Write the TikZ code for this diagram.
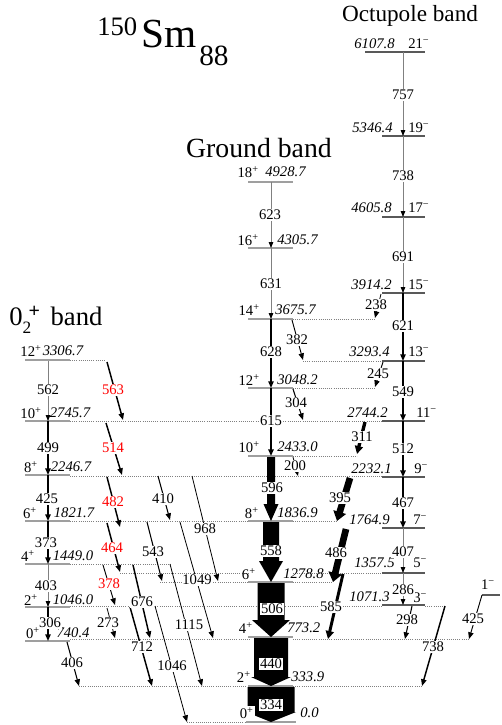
\documentclass[tikz,border=0pt]{standalone}
\usepackage{fontspec}
\setmainfont{Liberation Serif}
\usetikzlibrary{arrows.meta}
\newcommand\trn[4][]{\coordinate (#2s) at (#3); \coordinate (#2e) at (#4); \draw[#1] (#2s) -- (#2e);}
\newcommand\lev[4][lvl]{\draw[#1] (#2,#4) -- (#3,#4);}
\newcommand\dl[3]{\draw[dotl] (#1,#3) -- (#2,#3);}
\newcommand\blk[7]{\fill[black] ({#2-#5},#3) coordinate (#1s) -- ({#2+#5},#3) -- ({#2+#5},{#4-#7}) -- ({#2+#6},{#4-#7}) -- (#2,#4) coordinate (#1e) -- ({#2-#6},{#4-#7}) -- ({#2-#5},{#4-#7}) -- cycle;}
\begin{document}
\begin{tikzpicture}[x=0.75pt,y=-0.75pt,
  lvl/.style={draw=gray!75, line width=1.5pt},
  lvlo/.style={draw=black!65, line width=0.8pt},
  dotl/.style={draw=gray, densely dotted, line width=0.6pt},
  tg/.style={draw=gray, line width=0.6pt, -{Triangle[length=4.5pt,width=3.4pt,color=black]}},
  tb/.style={draw=black, line width=#1, -{Triangle[length=5pt,width=4pt]}},
  tb/.default=0.8pt,
  tk/.style n args={3}{draw=black, line width=#1, -{Triangle[length=#2,width=#3]}},
  lab/.style={font=\fontsize{11}{12}\selectfont, fill=white, inner sep=0.6pt},
  rlab/.style={lab, text=red},
  boxl/.style={lab, draw=black, line width=0.5pt, inner sep=1.2pt},
  en/.style={font=\fontsize{11}{12}\selectfont\itshape, inner sep=0pt},
  sp/.style={font=\fontsize{11}{12}\selectfont, inner sep=0pt},
]
\useasboundingbox (0,0) rectangle (501,725);

% ---------- titles
\node[anchor=base west, inner sep=0, font=\fontsize{20}{20}\selectfont] (tA) at (97,35) {150};
\node[anchor=base west, inner sep=0, font=\fontsize{31}{31}\selectfont] (tSm) at (141,47) {Sm};
\node[anchor=base west, inner sep=0, font=\fontsize{22}{22}\selectfont] (tZ) at (199,65) {88};
\node[anchor=base, inner sep=0, font=\fontsize{17.4}{18}\selectfont] (tOct) at (410,21) {Octupole band};
\node[inner sep=0, font=\fontsize{20.8}{21}\selectfont] (tGr) at (259,148) {Ground band};
\node[anchor=base west, inner sep=0, font=\fontsize{20}{20}\selectfont] (t02) at (9,325)
  {0\raisebox{-6pt}{\fontsize{13}{13}\selectfont 2}\hspace{-2pt}\raisebox{5.5pt}{\fontsize{15}{15}\selectfont\textbf{+}}\hspace{8pt}band};

% ---------- dotted guide lines
\dl{70}{105}{360}
\dl{293}{375}{319}
\dl{303}{383}{361}
\dl{293}{375}{388}
\dl{70}{382}{421}
\dl{293}{357}{456}
\dl{70}{382}{476}
\dl{70}{250}{521} \dl{293}{337}{521}
\dl{70}{172}{564}
\dl{120}{250}{573} \dl{293}{382}{573}
\dl{160}{250}{582} \dl{293}{333}{582}
\dl{70}{382}{606} \dl{425}{445}{606}
\dl{70}{250}{639} \dl{293}{470}{639}
\dl{79}{246}{686} \dl{293}{422}{686}
\dl{187}{246}{722}

% ---------- levels: 0_2 band
\foreach \yy in {360,421,475,521,564,607,641} {\lev{25}{70}{\yy}}
% ground band
\foreach \yy in {182,248,319,388,456,521,582,637,686} {\lev{248}{293}{\yy}}
\lev{246}{296}{722}
% octupole band
\lev[lvlo]{365}{425}{52}
\foreach \yy in {136,217,293,361,421,477,528,573,605} {\lev[lvlo]{382}{425}{\yy}}
\lev[lvlo]{482}{500}{595}

% ---------- 0_2 band in-band transitions
\trn[tg]{a562}{48,361}{48,421}
\trn[tb=1.5pt]{a499}{48,421}{48,475}
\trn[tb=1.2pt]{a425}{48,475}{48,521}
\trn[tb=1pt]{a373}{48,521}{48,564}
\trn[tg]{a403}{48,564}{48,607}
\trn[tb=1pt]{a306}{48,607}{48,641}

% ---------- out-of-band transitions from 0_2 band
\trn[tb=1.1pt]{r563}{107,362}{123,420}
\trn[tb=1.1pt]{r514}{106,423}{122,475}
\trn[tb=1.1pt]{r482}{107,477}{120,527}
\trn[tb=1.1pt]{r464}{107,523}{120,572}
\trn[tb=0.7pt]{r378}{103,565}{115,605}
\trn[tb=0.8pt]{b410}{158,476}{170,520}
\trn[tb=0.6pt]{b968}{192,476}{218,581}
\trn[tb=0.8pt]{b543}{147,522}{162,581}
\trn[tb=0.6pt]{b1049}{180,522}{213,638}
\trn[tb=1.1pt]{b676}{133,565}{150,638}
\trn[tb=0.6pt]{b1115}{170,564}{202,686}
\trn[tb=1.1pt]{b712}{130,607}{152,686}
\trn[tb=0.6pt]{b1046}{155,606}{187,722}
\trn[tb=0.6pt]{b273}{107,608}{115,638}
\trn[tb=0.8pt]{b406}{67,642}{79,686}

% ---------- ground band
\trn[tg]{g623}{271,182}{271,248}
\trn[tg]{g631}{271,248}{271,319}
\trn[tb=1.1pt]{g628}{271,319}{271,388}
\trn[tb=1.6pt]{g615}{271,388}{271,456}
\blk{g596}{271}{457}{521}{4}{7.5}{17}
\blk{g558}{271}{522}{582}{8}{12}{21}
\blk{g506}{271}{583}{637}{13.5}{19}{17}
\blk{g440}{271}{638}{686}{17}{20}{9}
\blk{g334}{271}{687}{722}{23.5}{25}{10}

% ---------- cross transitions ground / octupole
\trn[tb=0.7pt]{c382}{292,320}{303,360}
\trn[tb=0.8pt]{c304}{293,389}{303,420}
\trn[tb=0.6pt]{c200}{293,457}{298,476}
\trn[tb=0.6pt]{c238}{381,294}{375,318}
\trn[tb=0.7pt]{c245}{383,362}{375,387}
\trn[tk={2.5pt}{6pt}{6pt}]{c311}{365,422}{357,454}
\trn[tk={5pt}{7pt}{9.5pt}]{c395}{350,478}{337,521}
\trn[tk={5pt}{7pt}{10pt}]{c486}{346,529}{333,582}
\trn[tk={2.2pt}{6pt}{6pt}]{c585}{343,574}{328,639}
\trn[tb=0.8pt]{c298}{412,606}{405,639}
\trn[tb=1.1pt]{c738}{445,606}{422,686}
\trn[tb=0.7pt]{c425}{482,595}{469,639}

% ---------- octupole band
\trn[tg]{o757}{403,52}{403,136}
\trn[tg]{o738}{403,136}{403,217}
\trn[tg]{o691}{403,217}{403,293}
\trn[tb=1pt]{o621}{403,293}{403,361}
\trn[tb=1.6pt]{o549}{403,361}{403,421}
\trn[tb=2.2pt]{o512}{403,421}{403,477}
\trn[tb=1.6pt]{o467}{403,477}{403,528}
\trn[tg]{o407}{403,528}{403,573}
\trn[tg]{o286}{403,573}{403,605}

% ---------- level labels: 0_2 band
\node[sp] (s12a) at (31,351) {12\textsuperscript{+}};
\node[en] (e12a) at (63,351) {3306.7};
\node[sp] (s10a) at (31,413) {10\textsuperscript{+}};
\node[en] (e10a) at (70,413) {2745.7};
\node[sp] (s8a) at (31,467) {8\textsuperscript{+}};
\node[en] (e8a) at (71,467) {2246.7};
\node[sp] (s6a) at (30,513) {6\textsuperscript{+}};
\node[en] (e6a) at (74,513) {1821.7};
\node[sp] (s4a) at (28,556) {4\textsuperscript{+}};
\node[en] (e4a) at (73,556) {1449.0};
\node[sp] (s2a) at (31,600) {2\textsuperscript{+}};
\node[en] (e2a) at (73,600) {1046.0};
\node[sp] (s0a) at (33,633) {0\textsuperscript{+}};
\node[en] (e0a) at (73,633) {740.4};

% ---------- level labels: ground band
\node[sp, anchor=east] (s18g) at (259,172) {18\textsuperscript{+}};
\node[en, anchor=west] (e18g) at (265,172) {4928.7};
\node[sp, anchor=east] (s16g) at (259,240) {16\textsuperscript{+}};
\node[en, anchor=west] (e16g) at (277,240) {4305.7};
\node[sp, anchor=east] (s14g) at (260,310) {14\textsuperscript{+}};
\node[en, anchor=west] (e14g) at (275,310) {3675.7};
\node[sp, anchor=east] (s12g) at (260,380) {12\textsuperscript{+}};
\node[en, anchor=west] (e12g) at (277,380) {3048.2};
\node[sp, anchor=east] (s10g) at (260,447) {10\textsuperscript{+}};
\node[en, anchor=west] (e10g) at (277,447) {2433.0};
\node[sp, anchor=east] (s8g) at (259,513) {8\textsuperscript{+}};
\node[en, anchor=west] (e8g) at (277,513) {1836.9};
\node[sp, anchor=east] (s6g) at (256,574) {6\textsuperscript{+}};
\node[en, anchor=west] (e6g) at (283,574) {1278.8};
\node[sp, anchor=east] (s4g) at (253,628) {4\textsuperscript{+}};
\node[en, anchor=west] (e4g) at (287,628) {773.2};
\node[sp, anchor=east] (s2g) at (251,677) {2\textsuperscript{+}};
\node[en, anchor=west] (e2g) at (291,677) {333.9};
\node[sp, anchor=east, fill=white, inner sep=0.8pt] (s0g) at (255,713) {0\textsuperscript{+}};
\node[en, anchor=west] (e0g) at (300,713) {0.0};

% ---------- level labels: octupole band
\node[en, anchor=east] (e21o) at (395,44) {6107.8};
\node[sp, anchor=west] (s21o) at (408,44) {21\textsuperscript{−}};
\node[en, anchor=east] (e19o) at (393,128) {5346.4};
\node[sp, anchor=west] (s19o) at (408,128) {19\textsuperscript{−}};
\node[en, anchor=east] (e17o) at (392,208) {4605.8};
\node[sp, anchor=west] (s17o) at (408,208) {17\textsuperscript{−}};
\node[en, anchor=east] (e15o) at (392,285) {3914.2};
\node[sp, anchor=west] (s15o) at (408,285) {15\textsuperscript{−}};
\node[en, anchor=east] (e13o) at (390,352) {3293.4};
\node[sp, anchor=west] (s13o) at (408,352) {13\textsuperscript{−}};
\node[en, anchor=east] (e11o) at (388,413) {2744.2};
\node[sp, anchor=west] (s11o) at (416,413) {11\textsuperscript{−}};
\node[en, anchor=east] (e9o) at (392,469) {2232.1};
\node[sp, anchor=west] (s9o) at (414,469) {9\textsuperscript{−}};
\node[en, anchor=east] (e7o) at (390,520) {1764.9};
\node[sp, anchor=west] (s7o) at (413,520) {7\textsuperscript{−}};
\node[en, anchor=east] (e5o) at (395,563) {1357.5};
\node[sp, anchor=west] (s5o) at (413,563) {5\textsuperscript{−}};
\node[en, anchor=east] (e3o) at (390,597) {1071.3};
\node[sp, anchor=west] (s3o) at (413,598) {3\textsuperscript{−}};
\node[sp] (s1o) at (488,585) {1\textsuperscript{−}};

% ---------- transition labels
\node[lab] (l562) at (48,390) {562};
\node[lab] (l499) at (48,448) {499};
\node[lab] (l425) at (47,499) {425};
\node[lab] (l373) at (46,543) {373};
\node[lab] (l403) at (46,586) {403};
\node[lab] (l306) at (50,623) {306};
\node[rlab] (l563) at (113,390) {563};
\node[rlab] (l514) at (113,448) {514};
\node[rlab] (l482) at (113,502) {482};
\node[rlab] (l464) at (112,548) {464};
\node[rlab] (l378) at (109,584) {378};
\node[lab] (l410) at (163,499) {410};
\node[lab] (l968) at (205,529) {968};
\node[lab] (l543) at (153,552) {543};
\node[lab] (l1049) at (197,580) {1049};
\node[lab] (l676) at (142,602) {676};
\node[lab] (l1115) at (189,625) {1115};
\node[lab] (l712) at (142,647) {712};
\node[lab] (l1046) at (172,666) {1046};
\node[lab] (l273) at (108,623) {273};
\node[lab] (l406) at (72,663) {406};
\node[lab] (l623) at (270,215) {623};
\node[lab] (l631) at (271,284) {631};
\node[lab] (l628) at (271,352) {628};
\node[lab] (l615) at (271,421) {615};
\node[lab] (l596) at (272,488) {596};
\node[lab] (l558) at (271,551) {558};
\node[lab] (l506) at (272,609) {506};
\node[boxl] (l440) at (271,664) {440};
\node[boxl] (l334) at (271,705) {334};
\node[lab] (l382) at (297,340) {382};
\node[lab] (l304) at (296,403) {304};
\node[lab] (l200) at (295,466) {200};
\node[lab] (l238) at (376,305) {238};
\node[lab] (l245) at (378,374) {245};
\node[lab] (l311) at (362,437) {311};
\node[lab] (l395) at (340,498) {395};
\node[lab] (l486) at (336,553) {486};
\node[lab] (l585) at (331,607) {585};
\node[lab] (l298) at (407,620) {298};
\node[lab] (l738b) at (433,647) {738};
\node[lab] (l425b) at (473,619) {425};
\node[lab] (l757) at (403,95) {757};
\node[lab] (l738) at (403,176) {738};
\node[lab] (l691) at (403,257) {691};
\node[lab] (l621) at (403,326) {621};
\node[lab] (l549) at (403,392) {549};
\node[lab] (l512) at (403,449) {512};
\node[lab] (l467) at (403,503) {467};
\node[lab] (l407) at (403,552) {407};
\node[lab] (l286) at (403,590) {286};
\end{tikzpicture}
\end{document}
